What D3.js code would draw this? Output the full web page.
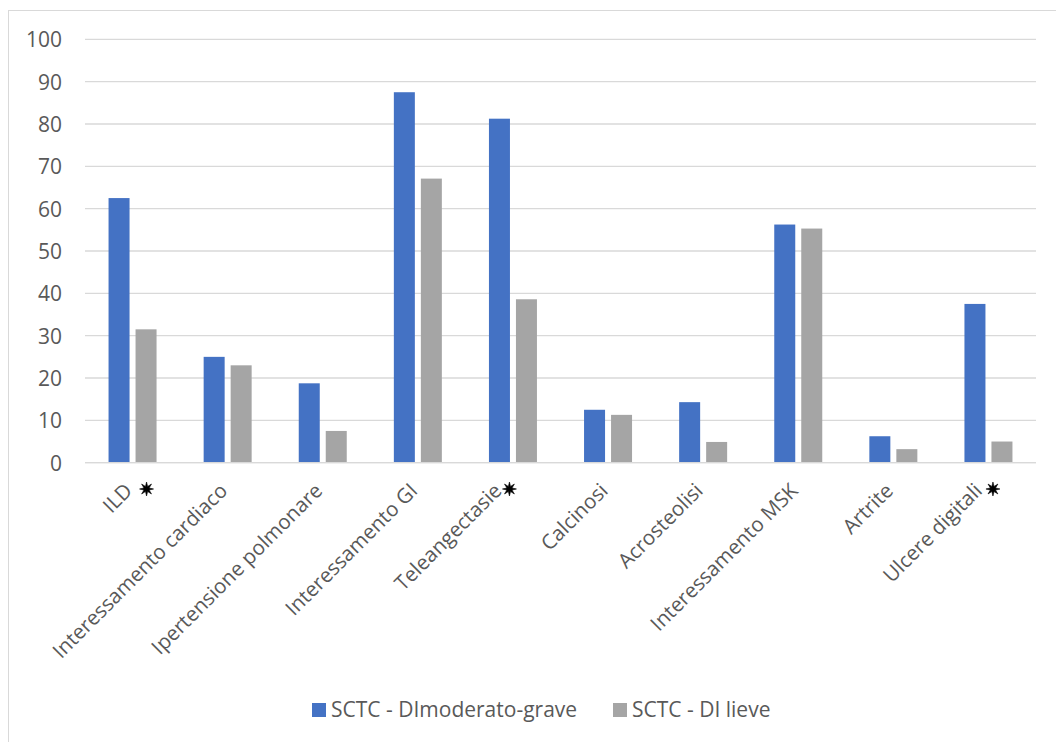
<!DOCTYPE html>
<html>
<head>
<meta charset="utf-8">
<script src="https://cdn.jsdelivr.net/npm/d3@7"></script>
<style>
  html, body { margin: 0; padding: 0; background: #fff; }
  svg { display: block; }
  text { font-family: "Open Sans", "Noto Sans", sans-serif; }
</style>
</head>
<body>
<svg id="chart" width="1056" height="742"></svg>
<script>
// Category labels; significant differences are flagged with an asterisk marker
const categories = [
  "ILD", "Interessamento cardiaco", "Ipertensione polmonare", "Interessamento GI",
  "Teleangectasie", "Calcinosi", "Acrosteolisi", "Interessamento MSK",
  "Artrite", "Ulcere digitali"
];
const starred = ["ILD", "Teleangectasie", "Ulcere digitali"];

const seriesNames = ["SCTC - DImoderato-grave", "SCTC - DI lieve"];
const moderateSevere = [62.5, 25, 18.75, 87.5, 81.25, 12.5, 14.3, 56.25, 6.25, 37.5];
const mild = [31.5, 23, 7.5, 67.1, 38.6, 11.3, 4.9, 55.3, 3.2, 5.0];
const yTicks = [0, 10, 20, 30, 40, 50, 60, 70, 80, 90, 100];

const colors = ["#4472c4", "#a5a5a5"];
const seriesValues = [moderateSevere, mild];

// label nudges for the flagged categories: text shift and marker offset
const starTextShift = { "ILD": 0, "Teleangectasie": -11, "Ulcere digitali": -6 };
const starMarkDx = { "ILD": 14, "Teleangectasie": -3.5, "Ulcere digitali": 4.5 };

const svg = d3.select("#chart");

// chart frame
svg.append("rect")
  .attr("x", 8.5).attr("y", 10.5)
  .attr("width", 1070).attr("height", 760)
  .attr("fill", "#fff").attr("stroke", "#d9d9d9").attr("stroke-width", 1);

const plot = { left: 85, right: 1036, top: 39.3, bottom: 462.7 };

const x = d3.scaleBand().domain(categories).range([plot.left, plot.right]).padding(0);
const y = d3.scaleLinear().domain([0, 100]).range([plot.bottom, plot.top]);

const barW = 21, barGap = 6;
const groupW = barW * 2 + barGap;

// gridlines
svg.append("g").selectAll("line").data(yTicks).join("line")
  .attr("x1", plot.left).attr("x2", plot.right)
  .attr("y1", d => y(d)).attr("y2", d => y(d))
  .attr("stroke", "#d9d9d9").attr("stroke-width", 1.3);

// y axis tick labels
const yAxis = d3.axisLeft(y).tickValues(yTicks).tickSize(0).tickPadding(0);
const yg = svg.append("g").attr("transform", `translate(${62},0)`).call(yAxis);
yg.select(".domain").remove();
yg.selectAll("text")
  .attr("fill", "#595959")
  .style("font-size", "21px")
  .attr("dy", "0.36em");

// bars
seriesValues.forEach((vals, s) => {
  svg.append("g").selectAll("rect").data(categories).join("rect")
    .attr("x", (c) => x(c) + (x.bandwidth() - groupW) / 2 + s * (barW + barGap))
    .attr("width", barW)
    .attr("y", (c, i) => y(vals[i]))
    .attr("height", (c, i) => y(0) - y(vals[i]))
    .attr("fill", colors[s]);
});

// baseline
svg.append("line")
  .attr("x1", plot.left).attr("x2", plot.right)
  .attr("y1", y(0)).attr("y2", y(0))
  .attr("stroke", "#d9d9d9").attr("stroke-width", 1.3);

// eight-spoked asterisk marker
const starPts = d3.range(16).map(k => [k * Math.PI / 8, k % 2 === 0 ? 7 : 2.8]);
const starPath = d3.lineRadial().curve(d3.curveLinearClosed)(starPts);

// rotated category labels
const xg = svg.append("g");
categories.forEach((c) => {
  const cx = x(c) + x.bandwidth() / 2;
  const isStar = starred.includes(c);
  const shift = isStar ? starTextShift[c] : 0;
  xg.append("text")
    .attr("transform", `translate(${cx + 1 + shift},${492}) rotate(-45)`)
    .attr("text-anchor", "end")
    .attr("fill", "#595959")
    .style("font-size", "20.5px")
    .text(c);
  if (isStar) {
    xg.append("path")
      .attr("transform", `translate(${cx + starMarkDx[c]},${489})`)
      .attr("d", starPath)
      .attr("fill", "#000")
      .attr("stroke", "#000")
      .attr("stroke-width", 0.6)
      .attr("stroke-linejoin", "round");
  }
});

// legend
const legendItems = [
  { name: seriesNames[0], color: colors[0], x: 312 },
  { name: seriesNames[1], color: colors[1], x: 613 }
];
const lg = svg.append("g");
legendItems.forEach(d => {
  lg.append("rect").attr("x", d.x).attr("y", 703).attr("width", 14).attr("height", 14)
    .attr("fill", d.color);
  lg.append("text").attr("x", d.x + 19).attr("y", 717)
    .attr("fill", "#595959").style("font-size", "21px").text(d.name);
});
</script>
</body>
</html>
